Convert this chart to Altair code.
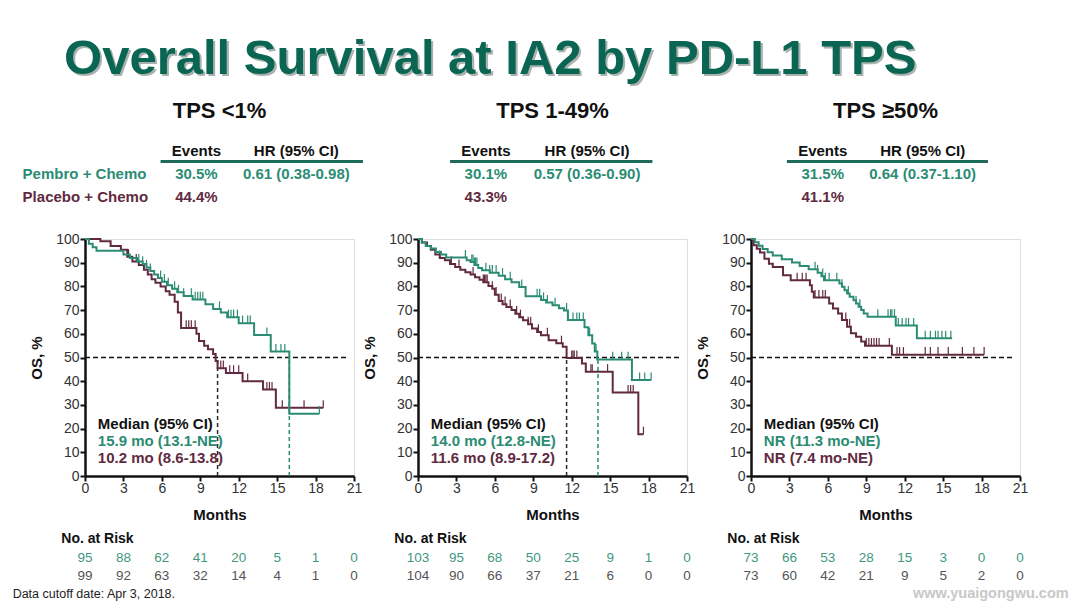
import altair as alt
import numpy as np
import pandas as pd

FONT = "Liberation Sans"
GREEN = "#2b8c73"
MAROON = "#612a40"
TITLE_GREEN = "#0a6652"
RULE_TEAL = "#1e6b5a"

# ---------------- data ----------------
main_title = "Overall Survival at IA2 by PD-L1 TPS"
panel_titles = ["TPS <1%", "TPS 1-49%", "TPS \u226550%"]
arm_labels = ["Pembro + Chemo", "Placebo + Chemo"]
events_pembro = ["30.5%", "30.1%", "31.5%"]
events_placebo = ["44.4%", "43.3%", "41.1%"]
hr_text = ["0.61 (0.38-0.98)", "0.57 (0.36-0.90)", "0.64 (0.37-1.10)"]
median_pembro = ["15.9 mo (13.1-NE)", "14.0 mo (12.8-NE)", "NR (11.3 mo-NE)"]
median_placebo = ["10.2 mo (8.6-13.8)", "11.6 mo (8.9-17.2)", "NR (7.4 mo-NE)"]
median_pembro_x = [15.95, 14.05, None]
median_placebo_x = [10.35, 11.6, None]

risk_months = [0, 3, 6, 9, 12, 15, 18, 21]
risk_pembro = [[95, 88, 62, 41, 20, 5, 1, 0],
               [103, 95, 68, 50, 25, 9, 1, 0],
               [73, 66, 53, 28, 15, 3, 0, 0]]
risk_placebo = [[99, 92, 63, 32, 14, 4, 1, 0],
                [104, 90, 66, 37, 21, 6, 0, 0],
                [73, 60, 42, 21, 9, 5, 2, 0]]

# KM step curves (time, survival after step)
g1_t = [0, 0.3, 0.6, 0.9, 3.0, 3.5, 4.1, 4.5, 4.8, 5.1, 5.4, 5.7, 6.0, 6.4, 6.8, 7.2, 7.7, 8.4,
        9.4, 10.0, 10.6, 11.1, 12.0, 13.2, 14.5, 15.95, 18.3]
g1_s = [100, 98, 96.5, 95, 93.5, 92, 90.5, 89.5, 88, 86.5, 85, 83.5, 82, 80.5, 79, 77.5, 76, 74.5,
        72.5, 70.5, 69, 67, 64.5, 59.5, 52.5, 26.3, 26.3]
m1_t = [0, 1.2, 2.0, 2.8, 3.3, 3.7, 4.2, 4.6, 4.9, 5.2, 5.5, 5.9, 6.3, 6.6, 7.0, 7.25, 7.5, 8.7,
        8.9, 9.3, 9.6, 10.0, 10.2, 10.35, 11.0, 12.3, 13.9, 14.9, 18.6]
m1_s = [100, 99, 97, 95.5, 92.5, 90.5, 89, 87, 85, 83, 81.5, 80, 78, 76.5, 73.5, 69, 62.5, 60,
        57, 55, 53.5, 51.5, 48.5, 45.5, 43.5, 40, 36.5, 28.8, 28.8]
g1_c = [4.2, 4.5, 4.8, 5.1, 5.9, 6.2, 6.5, 7.0, 7.3, 7.7, 8.3, 8.6, 8.8, 9.0, 9.2, 10.5, 11.2,
        11.4, 11.6, 11.9, 12.3, 12.7, 12.9, 14.2, 14.9, 15.3, 15.6, 18.3]
m1_c = [3.4, 4.0, 7.9, 8.1, 8.3, 8.6, 10.6, 10.8, 11.3, 11.6, 12.0, 12.7, 14.2, 14.4, 14.6,
        15.4, 17.1, 18.6]

g2_t = [0, 0.3, 0.6, 1.0, 1.4, 1.8, 2.2, 3.8, 4.1, 4.4, 4.7, 5.0, 5.6, 6.3, 6.8, 7.3, 7.9, 8.4,
        9.6, 10.0, 10.5, 11.0, 11.4, 11.7, 13.0, 13.3, 13.6, 13.8, 14.0, 16.7, 18.2]
g2_s = [100, 98.5, 97, 96, 94.5, 93.5, 92.2, 91, 90.3, 89, 87.8, 86.8, 85.8, 84.5, 83, 81.8,
        79.7, 75.8, 74.3, 73.2, 72, 70.8, 69.8, 65.8, 62.8, 59.4, 55.9, 52.5, 49.2, 40.5, 40.5]
m2_t = [0, 0.3, 0.7, 1.0, 1.35, 1.7, 2.1, 2.5, 2.9, 3.3, 3.7, 4.1, 4.45, 4.8, 5.1, 5.5, 5.8,
        6.0, 6.3, 6.6, 6.9, 7.3, 7.6, 7.9, 8.2, 8.6, 8.9, 9.3, 9.6, 10.2, 10.8, 11.3, 11.6, 12.8,
        13.1, 15.2, 17.2, 17.6]
m2_s = [100, 98.5, 97, 95.5, 93.5, 92, 91, 89.5, 88.2, 87, 86, 85, 83.9, 82.8, 81.8, 80.2, 79,
        76.5, 73.8, 72.5, 71.3, 70, 68.5, 67, 65.7, 64, 62.2, 60.8, 59.4, 57.3, 56, 54.5, 49.8,
        47.5, 44, 35.2, 17.6, 17.6]
g2_c = [3.7, 4.2, 4.3, 4.4, 4.5, 4.6, 5.3, 5.6, 5.8, 6.1, 6.6, 7.2, 8.1, 9.3, 9.5, 9.8, 10.1,
        10.7, 11.6, 11.7, 12.1, 12.4, 12.6, 12.9, 13.4, 13.9, 15.2, 15.9, 16.4, 17.3, 17.7, 18.2]
m2_c = [1.7, 2.6, 3.2, 4.3, 5.1, 5.2, 5.3, 5.4, 5.8, 6.1, 6.5, 6.8, 7.2, 7.7, 8.0, 8.6, 8.8,
        9.4, 10.1, 11.2, 12.0, 12.1, 12.2, 12.4, 13.5, 13.6, 14.8, 16.4, 16.6, 16.8, 17.6]

g3_t = [0, 0.3, 0.6, 0.9, 1.3, 1.7, 2.4, 3.2, 3.8, 4.5, 5.2, 5.5, 5.7, 6.9, 7.1, 7.3, 7.5, 7.7,
        8.0, 8.2, 8.4, 8.6, 8.8, 9.1, 11.3, 12.95, 15.7]
g3_s = [100, 98.6, 97.2, 95.8, 94.4, 93.0, 91.5, 90.1, 88.6, 87.2, 85.8, 84.3, 82.6, 81.2, 79.8,
        78.4, 77, 75.6, 74.2, 72.8, 71.4, 70, 68.6, 67.2, 63.5, 58.1, 58.1]
m3_t = [0, 0.2, 0.45, 0.7, 1.05, 1.4, 1.7, 2.5, 3.1, 4.6, 4.75, 4.9, 6.1, 6.4, 6.8, 7.1, 7.5,
        7.8, 8.2, 8.6, 8.9, 11.0, 18.2]
m3_s = [100, 97.4, 95.9, 94.3, 91.7, 89.6, 88.2, 84.7, 82.6, 80.5, 77.7, 75.3, 72.8, 70.7, 68.6,
        65.8, 63.0, 60.2, 58.8, 56.7, 55.0, 51.2, 51.2]
g3_c = [5.0, 5.2, 5.6, 5.8, 6.1, 6.7, 7.1, 7.6, 8.2, 8.5, 9.9, 10.7, 10.9, 11.0, 11.2, 11.5,
        11.8, 12.1, 12.3, 12.7, 13.6, 14.0, 14.4, 14.6, 14.9, 15.2, 15.6]
m3_c = [3.6, 4.0, 4.3, 5.0, 5.3, 5.6, 5.8, 7.4, 7.7, 9.0, 9.2, 9.4, 9.6, 9.8, 10.0, 10.8, 11.4,
        11.6, 11.9, 13.6, 14.0, 14.6, 15.4, 16.5, 17.4, 18.2]

curves = [((g1_t, g1_s, g1_c), (m1_t, m1_s, m1_c)),
          ((g2_t, g2_s, g2_c), (m2_t, m2_s, m2_c)),
          ((g3_t, g3_s, g3_c), (m3_t, m3_s, m3_c))]

footnote = "Data cutoff date: Apr 3, 2018."
watermark = "www.yuaigongwu.com"

# ---------------- layout (data-space positions) ----------------
W, H = 269, 237
events_x = [8.7, 5.3, 5.6]
hr_x = [16.5, 13.2, 13.4]
rule_x = [(5.9, 21.7), (2.5, 18.3), (2.8, 18.5)]
Y_TPS, Y_HEAD, Y_RULE, Y_ROW1, Y_ROW2 = 154.0, 137.0, 132.7, 127.6, 117.8
Y_MED = [21.8, 14.6, 7.5]
Y_RISK_T, Y_RISK1, Y_RISK2 = -26.7, -34.5, -42.2
Y_FOOT = -49.8
X_LABEL, X_MED, X_RISK_T, X_FOOT = -4.87, 1.0, -1.85, -5.65

XS = alt.Scale(domain=[0, 21], nice=False, zero=False)
YS = alt.Scale(domain=[0, 100], nice=False, zero=False)
XAX = alt.Axis(values=risk_months, title="Months", grid=False, labelFont=FONT, titleFont=FONT,
               labelFontSize=14, labelColor="#333333", titleFontSize=15, titleFontWeight="bold",
               titleColor="#111111", domainColor="#111111", domainWidth=2.5, tickColor="#111111",
               tickWidth=2, tickSize=5, labelPadding=0, titlePadding=12, labelFlush=False)
YAX = alt.Axis(values=list(range(0, 101, 10)), title="OS, %", grid=False, labelFont=FONT,
               titleFont=FONT, labelFontSize=14, labelColor="#333333", titleFontSize=15,
               titleFontWeight="bold", titleColor="#111111", domainColor="#111111",
               domainWidth=2.5, tickColor="#111111", tickWidth=2, tickSize=5, labelPadding=1,
               titlePadding=11)


def X(f="x"):
    return alt.X(f + ":Q", scale=XS, axis=XAX)


def Y(f="y"):
    return alt.Y(f + ":Q", scale=YS, axis=YAX)


def text_layer(rows, weight, align):
    df = pd.DataFrame(rows, columns=["x", "y", "text", "color", "size"])
    return alt.Chart(df).mark_text(font=FONT, fontWeight=weight, align=align,
                                   baseline="middle").encode(
        x=X(), y=Y(), text="text:N",
        color=alt.Color("color:N", scale=None),
        size=alt.Size("size:Q", scale=None))


def surv_at(ts, ss, t):
    i = int(np.searchsorted(np.array(ts), t, side="right")) - 1
    return ss[max(i, 0)]


def panel(i):
    layers = []
    # median reference lines
    hline = pd.DataFrame({"x": [0], "x2": [20.4], "y": [50]})
    layers.append(alt.Chart(hline).mark_rule(color="#111111", strokeWidth=1.5,
                                             strokeDash=[5, 3]).encode(x=X(), x2="x2:Q", y=Y()))
    vrows = []
    if median_placebo_x[i] is not None:
        vrows.append({"x": median_placebo_x[i], "y": 0, "y2": 50, "color": "#2a2a2a"})
    if median_pembro_x[i] is not None:
        vrows.append({"x": median_pembro_x[i], "y": 0, "y2": 50, "color": GREEN})
    if vrows:
        layers.append(alt.Chart(pd.DataFrame(vrows)).mark_rule(strokeWidth=1.5,
                                                               strokeDash=[4, 3]).encode(
            x=X(), y=Y(), y2="y2:Q", color=alt.Color("color:N", scale=None)))
    # KM curves
    (gt, gs, gc), (mt, ms, mc) = curves[i]
    for (t, s, c, col) in [(mt, ms, mc, MAROON), (gt, gs, gc, GREEN)]:
        cdf = pd.DataFrame({"x": t, "y": s})
        layers.append(alt.Chart(cdf).mark_line(interpolate="step-after", color=col,
                                               strokeWidth=2).encode(x=X(), y=Y()))
        cens = pd.DataFrame({"x": c, "y": [surv_at(t, s, v) for v in c]})
        cens["y2"] = cens["y"] + 3.2
        layers.append(alt.Chart(cens).mark_rule(color=col, strokeWidth=1.2).encode(
            x=X(), y=Y(), y2="y2:Q"))
    # header table rule
    rdf = pd.DataFrame({"x": [rule_x[i][0]], "x2": [rule_x[i][1]], "y": [Y_RULE]})
    layers.append(alt.Chart(rdf).mark_rule(color=RULE_TEAL, strokeWidth=3).encode(
        x=X(), x2="x2:Q", y=Y()))

    # texts
    layers.append(text_layer([(10.5, Y_TPS, panel_titles[i], "#111111", 22)], "bold", "center"))
    center_bold = [
        (events_x[i], Y_HEAD, "Events", "#111111", 15),
        (hr_x[i], Y_HEAD, "HR (95% CI)", "#111111", 15),
        (events_x[i], Y_ROW1, events_pembro[i], GREEN, 15),
        (hr_x[i], Y_ROW1, hr_text[i], GREEN, 15),
        (events_x[i], Y_ROW2, events_placebo[i], MAROON, 15),
    ]
    layers.append(text_layer(center_bold, "bold", "center"))
    left_bold = [
        (X_MED, Y_MED[0], "Median (95% CI)", "#111111", 15),
        (X_MED, Y_MED[1], median_pembro[i], GREEN, 15),
        (X_MED, Y_MED[2], median_placebo[i], MAROON, 15),
        (X_RISK_T, Y_RISK_T, "No. at Risk", "#111111", 14),
    ]
    if i == 0:
        left_bold += [(X_LABEL, Y_ROW1, arm_labels[0], GREEN, 15),
                      (X_LABEL, Y_ROW2, arm_labels[1], MAROON, 15)]
    layers.append(text_layer(left_bold, "bold", "left"))
    risk_rows = [(m, Y_RISK1, str(v), "#3f987f", 13.5) for m, v in zip(risk_months, risk_pembro[i])]
    risk_rows += [(m, Y_RISK2, str(v), "#555555", 13.5) for m, v in zip(risk_months, risk_placebo[i])]
    layers.append(text_layer(risk_rows, "normal", "center"))
    if i == 0:
        layers.append(text_layer([(X_FOOT, Y_FOOT, footnote, "#222222", 12.5)], "normal", "left"))
    if i == 1:
        layers.append(text_layer([(5.8, 175.2, main_title, "#a9b2ae", 49)], "bold", "center"))
        layers.append(text_layer([(5.64, 175.9, main_title, TITLE_GREEN, 49)], "bold", "center"))
    if i == 2:
        layers.append(text_layer([(24.8, Y_FOOT, watermark, "#c8c8c8", 14.5)], "bold", "right"))
    return alt.layer(*layers).properties(width=W, height=H)


chart = alt.hconcat(panel(0), panel(1), panel(2), spacing=64, bounds="flush").properties(
    padding={"left": 4, "top": 26, "right": 0, "bottom": 0}
).configure_view(stroke=None).configure(background="white")

chart.save("out.html", embed_options={"renderer": "svg", "actions": False})
